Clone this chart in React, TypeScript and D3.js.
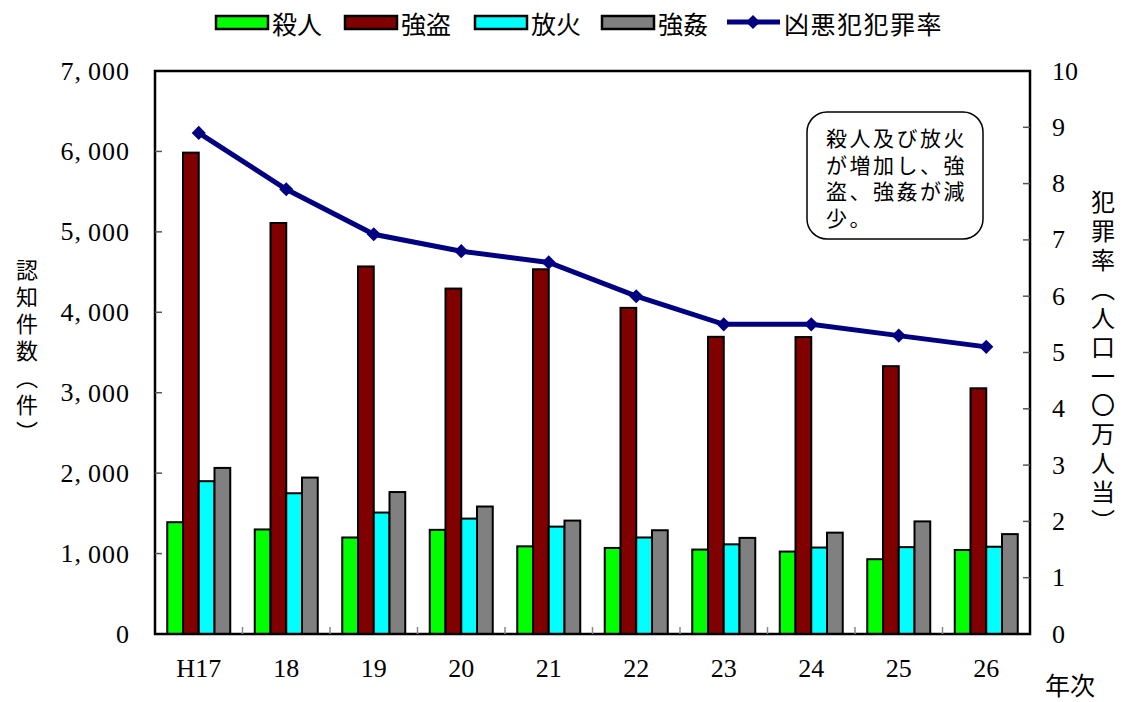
import { scaleBand, scaleLinear, line, symbol, symbolSquare, format } from "d3";

const W = 1126;
const H = 702;

const years = ["H17", "18", "19", "20", "21", "22", "23", "24", "25", "26"];
const seriesNames = ["殺人", "強盗", "放火", "強姦"];
const seriesColors = ["#00ff00", "#800000", "#00ffff", "#808080"];
const murder = [1390, 1300, 1200, 1295, 1090, 1070, 1050, 1025, 930, 1045];
const robbery = [5985, 5110, 4570, 4295, 4535, 4055, 3695, 3692, 3330, 3055];
const arson = [1900, 1750, 1510, 1435, 1335, 1200, 1115, 1075, 1080, 1085];
const rape = [2065, 1945, 1765, 1585, 1410, 1290, 1195, 1260, 1400, 1242];
const crimeRate = [8.9, 7.9, 7.1, 6.8, 6.6, 6.0, 5.5, 5.5, 5.3, 5.1];
const rateName = "凶悪犯犯罪率";
const leftTicks = [0, 1000, 2000, 3000, 4000, 5000, 6000, 7000];
const rightTicks = [0, 1, 2, 3, 4, 5, 6, 7, 8, 9, 10];
const note = ["殺人及び放火", "が増加し、強", "盗、強姦が減", "少。"];

const plot = { left: 155, right: 1030, top: 71, bottom: 634 };
const serif = "'Liberation Serif', 'DejaVu Serif', serif";
const jp = "'Noto Sans CJK JP', sans-serif";

const App = () => {
  const values = [murder, robbery, arson, rape];

  const x = scaleBand<string>()
    .domain(years)
    .range([plot.left, plot.right])
    .paddingInner(0.28)
    .paddingOuter(0.14);
  const xs = scaleBand<number>()
    .domain(seriesNames.map((_, i) => i))
    .range([0, x.bandwidth()]);
  const yL = scaleLinear().domain([0, 7000]).range([plot.bottom, plot.top]);
  const yR = scaleLinear().domain([0, 10]).range([plot.bottom, plot.top]);
  const cx = (d: string) => (x(d) as number) + x.bandwidth() / 2;

  const rateLine = line<number>()
    .x((_, i) => cx(years[i]))
    .y((v) => yR(v));
  const diamond = symbol().type(symbolSquare).size(100)() as string;
  const fmt = format(",");

  const legendItems = [
    { x: 216, i: 0 },
    { x: 345, i: 1 },
    { x: 475, i: 2 },
    { x: 602, i: 3 },
  ];

  return (
    <svg
      width={W}
      height={H}
      style={{ position: "absolute", left: 0, top: 0, background: "#fff" }}
    >
      {/* legend */}
      {legendItems.map((l) => (
        <g key={l.i}>
          <rect
            x={l.x}
            y={16}
            width={52}
            height={13}
            fill={seriesColors[l.i]}
            stroke="#000"
            strokeWidth={2.5}
          />
          <text
            x={l.x + 56}
            y={23}
            dominantBaseline="central"
            fontFamily={jp}
            fontSize={25}
            fill="#000"
          >
            {seriesNames[l.i]}
          </text>
        </g>
      ))}
      <line x1={727} x2={780} y1={22} y2={22} stroke="#000080" strokeWidth={5} />
      <path d={diamond} transform="translate(753,22) rotate(45)" fill="#000080" />
      <text
        x={784}
        y={23}
        dominantBaseline="central"
        fontFamily={jp}
        fontSize={25}
        letterSpacing={1.5}
      >
        {rateName}
      </text>

      {/* bars */}
      {years.map((yr, j) => (
        <g key={yr} transform={`translate(${x(yr)},0)`}>
          {values.map((arr, i) => (
            <rect
              key={i}
              x={xs(i)}
              y={yL(arr[j])}
              width={xs.bandwidth()}
              height={plot.bottom - yL(arr[j])}
              fill={seriesColors[i]}
              stroke="#000"
              strokeWidth={2}
            />
          ))}
        </g>
      ))}

      {/* frame and ticks */}
      <rect
        x={plot.left}
        y={plot.top}
        width={plot.right - plot.left}
        height={plot.bottom - plot.top}
        fill="none"
        stroke="#000"
        strokeWidth={2.5}
      />
      {leftTicks.slice(1, -1).map((t) => (
        <line key={t} x1={plot.left} x2={plot.left + 7} y1={yL(t)} y2={yL(t)} stroke="#555" strokeWidth={1.5} />
      ))}
      {rightTicks.slice(1, -1).map((t) => (
        <line key={t} x1={plot.right - 7} x2={plot.right} y1={yR(t)} y2={yR(t)} stroke="#555" strokeWidth={1.5} />
      ))}
      {years.slice(1).map((yr) => {
        const bx = (x(yr) as number) - (x.step() - x.bandwidth()) / 2;
        return <line key={yr} x1={bx} x2={bx} y1={plot.bottom} y2={plot.bottom - 7} stroke="#888" strokeWidth={1.5} />;
      })}

      {/* crime rate line */}
      <path d={rateLine(crimeRate) as string} fill="none" stroke="#000080" strokeWidth={5} />
      {crimeRate.map((v, i) => (
        <path
          key={i}
          d={diamond}
          transform={`translate(${cx(years[i])},${yR(v)}) rotate(45)`}
          fill="#000080"
        />
      ))}

      {/* left axis labels */}
      {leftTicks.map((t) => {
        const s = fmt(t);
        const k = s.indexOf(",");
        return (
          <text
            key={t}
            x={130}
            y={yL(t)}
            textAnchor="end"
            dominantBaseline="central"
            fontFamily={serif}
            fontSize={26}
            letterSpacing={1}
          >
            {k < 0 ? (
              s
            ) : (
              <>
                {s.slice(0, k + 1)}
                <tspan dx={6}>{s.slice(k + 1)}</tspan>
              </>
            )}
          </text>
        );
      })}

      {/* right axis labels */}
      {rightTicks.map((t) => (
        <text
          key={t}
          x={1052}
          y={yR(t)}
          dominantBaseline="central"
          fontFamily={serif}
          fontSize={26}
        >
          {t}
        </text>
      ))}

      {/* x labels */}
      {years.map((yr) => (
        <text
          key={yr}
          x={cx(yr)}
          y={668}
          textAnchor="middle"
          dominantBaseline="central"
          fontFamily={serif}
          fontSize={26}
        >
          {yr}
        </text>
      ))}
      <text x={1045} y={684} dominantBaseline="central" fontFamily={jp} fontSize={25}>
        年次
      </text>

      {/* axis titles */}
      <text
        x={27}
        y={259}
        fontFamily={jp}
        fontSize={22}
        letterSpacing={5}
        style={{ writingMode: "vertical-rl" }}
      >
        認知件数（件）
      </text>
      <text
        x={1103}
        y={190}
        fontFamily={jp}
        fontSize={24}
        letterSpacing={5}
        style={{ writingMode: "vertical-rl" }}
      >
        犯罪率（人口一〇万人当）
      </text>

      {/* note box */}
      <rect x={807} y={112} width={176} height={127} rx={20} fill="#fff" stroke="#000" strokeWidth={1.5} />
      <text
        x={826}
        y={137}
        dominantBaseline="central"
        fontFamily={jp}
        fontSize={21}
        letterSpacing={2.5}
      >
        {note.map((s, i) => (
          <tspan key={i} x={826} y={137 + i * 26.7}>
            {s}
          </tspan>
        ))}
      </text>
    </svg>
  );
};

export default App;
